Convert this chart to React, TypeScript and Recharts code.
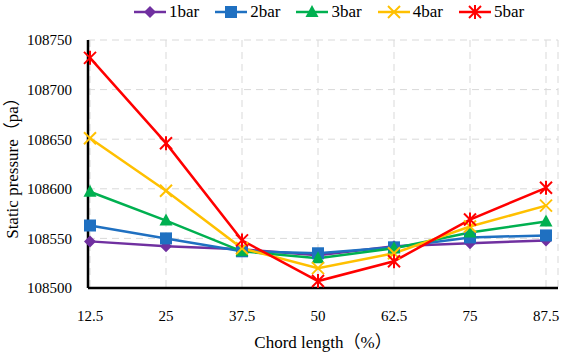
import { LineChart, Line, XAxis, YAxis, CartesianGrid } from 'recharts'

// ─── Data ─────────────────────────────────────────────────────────────────────

const chordLength = ['12.5', '25', '37.5', '50', '62.5', '75', '87.5']
const bar1 = [108547, 108542, 108539, 108533, 108542, 108545, 108548]
const bar2 = [108563, 108550, 108537, 108535, 108541, 108551, 108553]
const bar3 = [108597, 108568, 108537, 108530, 108540, 108556, 108567]
const bar4 = [108651, 108598, 108540, 108520, 108535, 108562, 108583]
const bar5 = [108732, 108646, 108548, 108507, 108527, 108569, 108601]
const yTicks = [108500, 108550, 108600, 108650, 108700, 108750]

const data = chordLength.map((c, i) => ({
  chord: c, bar1: bar1[i], bar2: bar2[i], bar3: bar3[i], bar4: bar4[i], bar5: bar5[i],
}))

// ─── Constants ────────────────────────────────────────────────────────────────

const FONT = "'Liberation Serif', 'Noto Sans CJK SC', serif"
const PURPLE = '#7030A0'
const BLUE = '#1F70C1'
const GREEN = '#00B050'
const YELLOW = '#FFC000'
const RED = '#FF0000'

type Shape = 'diamond' | 'square' | 'triangle' | 'x' | 'star'

// ─── Markers ──────────────────────────────────────────────────────────────────

function Marker({ cx, cy, shape, color }: { cx: number; cy: number; shape: Shape; color: string }) {
  if (cx == null || cy == null) return null
  switch (shape) {
    case 'diamond':
      return <polygon points={`${cx},${cy - 6} ${cx + 6},${cy} ${cx},${cy + 6} ${cx - 6},${cy}`} fill={color} />
    case 'square':
      return <rect x={cx - 6} y={cy - 6} width={12} height={12} fill={color} />
    case 'triangle':
      return <polygon points={`${cx},${cy - 7} ${cx + 6.5},${cy + 5} ${cx - 6.5},${cy + 5}`} fill={color} />
    case 'x':
      return (
        <g stroke={color} strokeWidth={2}>
          <line x1={cx - 6} y1={cy - 6} x2={cx + 6} y2={cy + 6} />
          <line x1={cx - 6} y1={cy + 6} x2={cx + 6} y2={cy - 6} />
        </g>
      )
    default:
      return (
        <g stroke={color} strokeWidth={2}>
          <line x1={cx - 6} y1={cy - 6} x2={cx + 6} y2={cy + 6} />
          <line x1={cx - 6} y1={cy + 6} x2={cx + 6} y2={cy - 6} />
          <line x1={cx} y1={cy - 7} x2={cx} y2={cy + 7} />
        </g>
      )
  }
}

const series: { key: string; name: string; color: string; shape: Shape }[] = [
  { key: 'bar1', name: '1bar', color: PURPLE, shape: 'diamond' },
  { key: 'bar2', name: '2bar', color: BLUE, shape: 'square' },
  { key: 'bar3', name: '3bar', color: GREEN, shape: 'triangle' },
  { key: 'bar4', name: '4bar', color: YELLOW, shape: 'x' },
  { key: 'bar5', name: '5bar', color: RED, shape: 'star' },
]

// ─── Legend ───────────────────────────────────────────────────────────────────

function ChartLegend() {
  return (
    <div style={{ position: 'absolute', top: 2, left: 134, display: 'flex', gap: 16, fontFamily: FONT, fontSize: 17, color: '#000', lineHeight: '20px' }}>
      {series.map((s) => (
        <div key={s.key} style={{ display: 'flex', alignItems: 'center', gap: 3 }}>
          <svg width={32} height={14}>
            <line x1={0} y1={7} x2={32} y2={7} stroke={s.color} strokeWidth={2.5} />
            <Marker cx={16} cy={7} shape={s.shape} color={s.color} />
          </svg>
          <span>{s.name}</span>
        </div>
      ))}
    </div>
  )
}

// ─── Component ────────────────────────────────────────────────────────────────

export default function App() {
  const tick = { fontSize: 15, fill: '#000', fontFamily: FONT }
  return (
    <div style={{ position: 'absolute', left: 0, top: 0, width: 562, height: 358, background: '#fff', fontFamily: FONT }}>
      <LineChart width={562} height={358} data={data} margin={{ top: 40, right: 4, bottom: 0, left: 10 }}>
        <CartesianGrid stroke="#D9D9D9" strokeDasharray="7 5" />
        <XAxis
          dataKey="chord"
          padding={{ left: 2, right: 12 }}
          axisLine={{ stroke: '#000', strokeWidth: 2.5 }}
          tickLine={false}
          tick={tick}
          tickMargin={16}
          height={70}
          label={{ value: 'Chord length（%）', position: 'insideBottom', offset: 10, style: { fontFamily: FONT, fontSize: 17, fill: '#000' } }}
        />
        <XAxis xAxisId="top" orientation="top" dataKey="chord" height={0} tick={false} tickLine={false}
          axisLine={{ stroke: '#000', strokeWidth: 2.5 }} />
        <YAxis
          domain={[108500, 108750]}
          ticks={yTicks}
          axisLine={{ stroke: '#000', strokeWidth: 2.5 }}
          tickLine={false}
          tick={tick}
          tickMargin={10}
          width={78}
          label={{ value: 'Static pressure（pa）', angle: -90, position: 'insideLeft', offset: 2, style: { textAnchor: 'middle', fontFamily: FONT, fontSize: 17, fill: '#000' } }}
        />
        <YAxis yAxisId="right" orientation="right" width={0} tick={false} tickLine={false}
          axisLine={{ stroke: '#000', strokeWidth: 2.5 }} />
        {series.map((s) => (
          <Line
            key={s.key}
            type="linear"
            dataKey={s.key}
            name={s.name}
            stroke={s.color}
            strokeWidth={2.5}
            isAnimationActive={false}
            dot={(p: any) => <Marker key={`${s.key}-${p.index}`} cx={p.cx} cy={p.cy} shape={s.shape} color={s.color} />}
            activeDot={false}
          />
        ))}
      </LineChart>
      <ChartLegend />
    </div>
  )
}
